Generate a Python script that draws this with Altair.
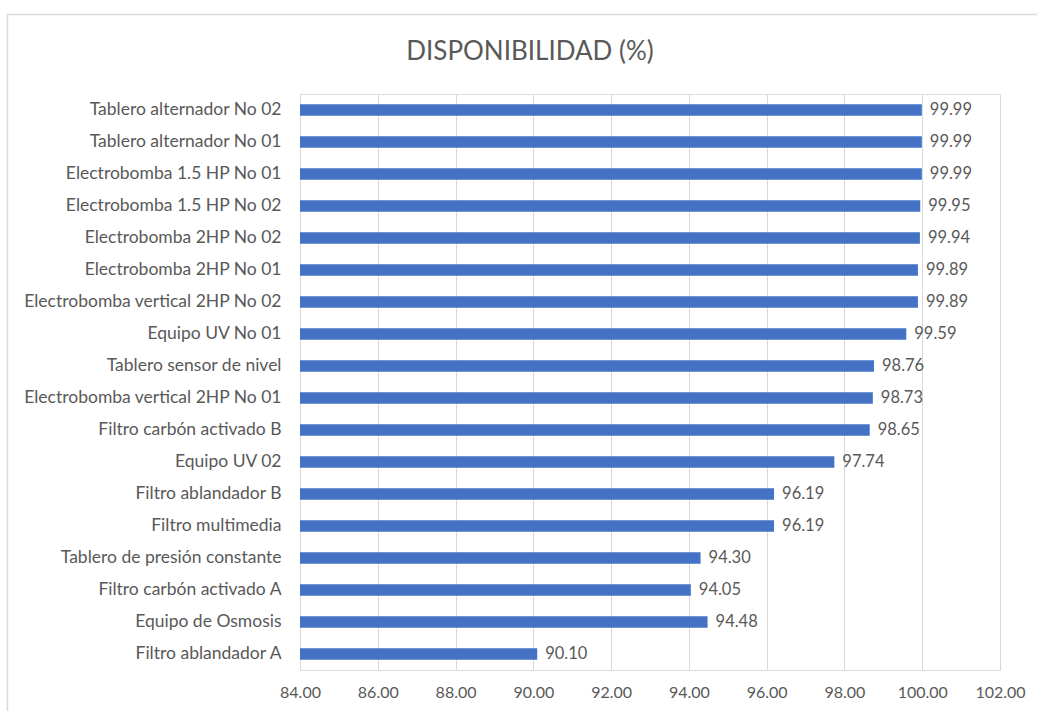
import altair as alt
import pandas as pd

equipos = [
    "Tablero alternador No 02",
    "Tablero alternador No 01",
    "Electrobomba 1.5 HP No 01",
    "Electrobomba 1.5 HP No 02",
    "Electrobomba 2HP No 02",
    "Electrobomba 2HP No 01",
    "Electrobomba vertical 2HP No 02",
    "Equipo UV No 01",
    "Tablero sensor de nivel",
    "Electrobomba vertical 2HP No 01",
    "Filtro carbón activado B",
    "Equipo UV 02",
    "Filtro ablandador B",
    "Filtro multimedia",
    "Tablero de presión constante",
    "Filtro carbón activado A",
    "Equipo de Osmosis",
    "Filtro ablandador A",
]
disponibilidad = [
    99.99, 99.99, 99.99, 99.95, 99.94, 99.89, 99.89, 99.59, 98.76,
    98.73, 98.65, 97.74, 96.19, 96.19, 94.30, 94.05, 94.48, 90.10,
]
x_ticks = [84, 86, 88, 90, 92, 94, 96, 98, 100, 102]

df = pd.DataFrame({"equipo": equipos, "disp": disponibilidad})

FONT = "Lato"
TXT = "#595959"

y_enc = alt.Y(
    "equipo:N",
    sort=equipos,
    title=None,
    scale=alt.Scale(paddingInner=0.64, paddingOuter=0.32),
    axis=alt.Axis(
        domain=False, ticks=False, labelPadding=19, labelFontSize=17.5,
        labelFont=FONT, labelColor=TXT, labelLimit=400,
    ),
)
x_enc = alt.X(
    "disp:Q",
    title=None,
    scale=alt.Scale(domain=[84, 102], zero=False, nice=False),
    axis=alt.Axis(
        values=x_ticks, format=".2f", domain=False, ticks=False,
        grid=True, gridColor="#d9d9d9", gridWidth=1,
        labelFlush=False, labelOverlap=False,
        labelPadding=14, labelFontSize=16, labelFont=FONT, labelColor=TXT,
    ),
)

# chart-area frame (decorative border around the whole chart)
frame = alt.Chart(pd.DataFrame({"k": [0]})).mark_rect(
    fill=None, stroke="#d9d9d9", strokeWidth=1.5
).encode(
    x=alt.value(-292.5), x2=alt.value(745),
    y=alt.value(-79.5), y2=alt.value(630),
)

bars = alt.Chart(df).mark_bar(color="#4472C4").encode(
    y=y_enc, x=x_enc, x2=alt.datum(84)
)
labels = alt.Chart(df).mark_text(
    align="left", baseline="middle", dx=8, fontSize=16.5, font=FONT, color=TXT
).encode(
    y=alt.Y("equipo:N", sort=equipos),
    x=alt.X("disp:Q"),
    text=alt.Text("disp:Q", format=".2f"),
)

chart = (
    alt.layer(bars, labels, frame)
    .properties(
        width=700,
        height=576,
        title=alt.TitleParams(
            "DISPONIBILIDAD (%)", fontSize=26, font=FONT, fontWeight="normal",
            color=TXT, anchor="middle", dx=-120, offset=-51,
        ),
        autosize=alt.AutoSizeParams(type="none"),
        padding={"left": 300, "top": 94, "right": 37, "bottom": 41},
    )
    .configure_view(stroke=None)
    .configure(background="white")
)

chart.save("out.html", embed_options={"renderer": "svg", "actions": False})
